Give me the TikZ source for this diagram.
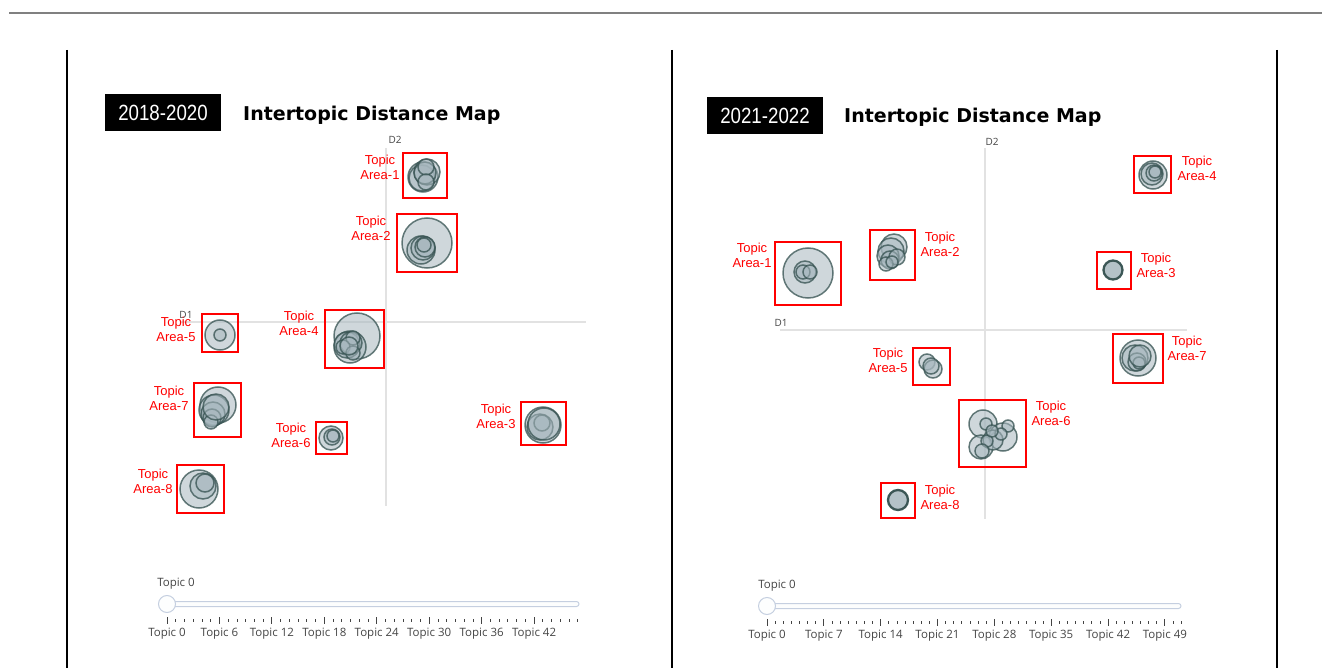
\documentclass[tikz,border=0pt]{standalone}
\usepackage{fontspec}
\setmainfont{Liberation Sans}
\newfontfamily\titlefont{DejaVu Sans}
\newfontfamily\uifont{Open Sans}
\usetikzlibrary{positioning}
\definecolor{bubfill}{HTML}{A7B7BE}
\definecolor{bubline}{HTML}{34504F}
\definecolor{axisgray}{HTML}{E2E2E2}
\definecolor{uitext}{HTML}{444444}
\definecolor{trackline}{HTML}{C5CFE0}
\definecolor{topline}{HTML}{808080}
\tikzset{
  bub/.style={fill=bubfill, fill opacity=0.55, draw=bubline, draw opacity=0.75, line width=1.5pt},
  bubthick/.style={fill=bubfill, fill opacity=0.85, draw=bubline, draw opacity=0.95, line width=2.3pt},
  redbox/.style={draw=red, line width=2.4pt},
  lbl/.style={text=red, font=\fontsize{13}{15}\selectfont, align=center, inner sep=0pt},
  yearbox/.style={fill=black, text=white, minimum width=116pt, minimum height=37pt, inner sep=0pt, font=\fontsize{22}{22}\selectfont},
  ttl/.style={font=\titlefont\bfseries\fontsize{19}{19}\selectfont, inner sep=0pt, anchor=base west},
  axl/.style={draw=axisgray, line width=1.4pt},
  axlbl/.style={font=\uifont\fontsize{10}{10}\selectfont, text=uitext, inner sep=0pt},
  uilbl/.style={font=\uifont\fontsize{11.5}{11.5}\selectfont, text=uitext, inner sep=0pt},
  tick/.style={draw=uitext, line width=0.8pt},
  track/.style={draw=trackline, fill=white!95!trackline, line width=1pt, rounded corners=2.5pt},
  handle/.style={draw=trackline, fill=white!97!trackline, line width=1pt}
}
\begin{document}
\begin{tikzpicture}[x=1pt,y=-1pt]
\useasboundingbox (0,0) rectangle (1322,668);
% frame lines
\draw[topline, line width=1.3pt] (9,13) -- (1322,13);
\draw[black, line width=1.1pt] (67,50) -- (67,668);
\draw[black, line width=1.1pt] (672,50) -- (672,668);
\draw[black, line width=1.1pt] (1277,50) -- (1277,668);

% ================= LEFT PANEL =================
\node[yearbox] (yl) at (163,112.5) {\scalebox{0.85}[1]{2018-2020}};
\node[ttl] (tl) at (243,121) {Intertopic Distance Map};
\draw[axl] (386,148) -- (386,506);
\draw[axl] (180,322) -- (586,322);
\node[axlbl] (d2l) at (395,140) {D2};
\node[axlbl] (d1l) at (186,315) {D1};

% Area-1
\foreach \cx/\cy/\r in {423/177/15, 422/178/13, 427/172/13, 425/173/11, 426/167/8, 426/182/8}
  \draw[bub] (\cx,\cy) circle (\r);
\draw[redbox] (403,153) rectangle (447,198);
\node[lbl] (l1) at (380,167) {Topic\\Area-1};
% Area-2
\foreach \cx/\cy/\r in {427/243/25, 421/250/14, 423/248/12, 425/247/10, 424/245/7}
  \draw[bub] (\cx,\cy) circle (\r);
\draw[redbox] (397,214) rectangle (457,272);
\node[lbl] (l2) at (371,228) {Topic\\Area-2};
% Area-5
\foreach \cx/\cy/\r in {220/335/15, 220/335/6}
  \draw[bub] (\cx,\cy) circle (\r);
\draw[redbox] (202,314) rectangle (238,352);
\node[lbl] (l5) at (176,329) {Topic\\Area-5};
% Area-4
\foreach \cx/\cy/\r in {357/336/23, 350/347/16, 347/345/13, 351/343/11, 353/338/7, 343/347/7, 353/353/7, 349/346/9}
  \draw[bub] (\cx,\cy) circle (\r);
\draw[redbox] (325,310) rectangle (384,368);
\node[lbl] (l4) at (299,323) {Topic\\Area-4};
% Area-7
\foreach \cx/\cy/\r in {218/405/18, 214/410/15, 213/414/12, 212/418/9, 211/422/7, 216/407/13}
  \draw[bub] (\cx,\cy) circle (\r);
\draw[redbox] (194,383) rectangle (241,437);
\node[lbl] (l7) at (169,398) {Topic\\Area-7};
% Area-6
\foreach \cx/\cy/\r in {331/438/12, 332/437/8, 333/436/6}
  \draw[bub] (\cx,\cy) circle (\r);
\draw[redbox] (316,422) rectangle (347,454);
\node[lbl] (l6) at (291,435) {Topic\\Area-6};
% Area-3
\foreach \cx/\cy/\r in {543/425/18, 540/427/13, 542/423/8, 544/424/16}
  \draw[bub] (\cx,\cy) circle (\r);
\draw[redbox] (521,402) rectangle (566,445);
\node[lbl] (l3) at (496,416) {Topic\\Area-3};
% Area-8
\foreach \cx/\cy/\r in {199/489/19, 203/486/13, 205/483/9}
  \draw[bub] (\cx,\cy) circle (\r);
\draw[redbox] (177,465) rectangle (224,513);
\node[lbl] (l8) at (153,481) {Topic\\Area-8};

% slider left
\node[uilbl] (sl0) at (176,584) {Topic 0};
\draw[track] (167,601.5) rectangle (579,606.5);
\node[handle, circle, minimum size=17pt, inner sep=0pt] (hl) at (167,604) {};
\foreach \i in {0,...,47} \draw[tick] ({167+\i*8.74},619) -- ({167+\i*8.74},622);
\foreach \i in {0,6,...,42} {
  \draw[tick] ({167+\i*8.74},617) -- ({167+\i*8.74},624);
  \node[uilbl] (tl\i) at ({167+\i*8.74},634) {Topic \i};
}

% ================= RIGHT PANEL =================
\node[yearbox] (yr) at (765,115.5) {\scalebox{0.85}[1]{2021-2022}};
\node[ttl] (tr) at (844,123) {Intertopic Distance Map};
\draw[axl] (985,148) -- (985,519);
\draw[axl] (780,330) -- (1187,330);
\node[axlbl] (d2r) at (992,142) {D2};
\node[axlbl] (d1r) at (781,323) {D1};

% Area-4
\foreach \cx/\cy/\r in {1153/175/14, 1152/174/11, 1154/173/8, 1155/172/6}
  \draw[bub] (\cx,\cy) circle (\r);
\draw[redbox] (1134,156) rectangle (1171,193);
\node[lbl] (r4) at (1197,168) {Topic\\Area-4};
% Area-1
\foreach \cx/\cy/\r in {808/273/25, 805/272/11, 803/272/7, 810/272/7}
  \draw[bub] (\cx,\cy) circle (\r);
\draw[redbox] (775,242) rectangle (841,305);
\node[lbl] (r1) at (752,255) {Topic\\Area-1};
% Area-2
\foreach \cx/\cy/\r in {894/247/13, 891/251/13, 888/256/11, 890/260/9, 897/257/8, 886/264/7, 892/262/6}
  \draw[bub] (\cx,\cy) circle (\r);
\draw[redbox] (870,230) rectangle (915,280);
\node[lbl] (r2) at (940,244) {Topic\\Area-2};
% Area-3
\draw[bubthick] (1113,270) circle (9.5);
\draw[redbox] (1097,252) rectangle (1131,289);
\node[lbl] (r3) at (1156,265) {Topic\\Area-3};
% Area-7
\foreach \cx/\cy/\r in {1138/358/18, 1135/358/13, 1137/362/9, 1139/363/6, 1140/356/11}
  \draw[bub] (\cx,\cy) circle (\r);
\draw[redbox] (1113,334) rectangle (1163,383);
\node[lbl] (r7) at (1187,348) {Topic\\Area-7};
% Area-5
\foreach \cx/\cy/\r in {927/362/8, 933/369/9, 931/366/8}
  \draw[bub] (\cx,\cy) circle (\r);
\draw[redbox] (913,348) rectangle (950,385);
\node[lbl] (r5) at (888,360) {Topic\\Area-5};
% Area-6
\foreach \cx/\cy/\r in {983/424/14, 1003/437/14, 981/447/12, 993/440/10, 986/424/6, 1008/426/6, 1001/434/6, 987/441/6, 982/451/7, 992/431/6}
  \draw[bub] (\cx,\cy) circle (\r);
\draw[redbox] (959,400) rectangle (1026,467);
\node[lbl] (r6) at (1051,413) {Topic\\Area-6};
% Area-8
\draw[bubthick] (898,500) circle (10);
\draw[redbox] (881,483) rectangle (915,518);
\node[lbl] (r8) at (940,497) {Topic\\Area-8};

% slider right
\node[uilbl] (sr0) at (777,586) {Topic 0};
\draw[track] (767,603.5) rectangle (1181,608.5);
\node[handle, circle, minimum size=17pt, inner sep=0pt] (hr) at (767,606) {};
\foreach \i in {0,...,51} \draw[tick] ({767+\i*8.12},621) -- ({767+\i*8.12},624);
\foreach \i in {0,7,...,49} {
  \draw[tick] ({767+\i*8.12},619) -- ({767+\i*8.12},626);
  \node[uilbl] (tr\i) at ({767+\i*8.12},636) {Topic \i};
}
\end{tikzpicture}
\end{document}
